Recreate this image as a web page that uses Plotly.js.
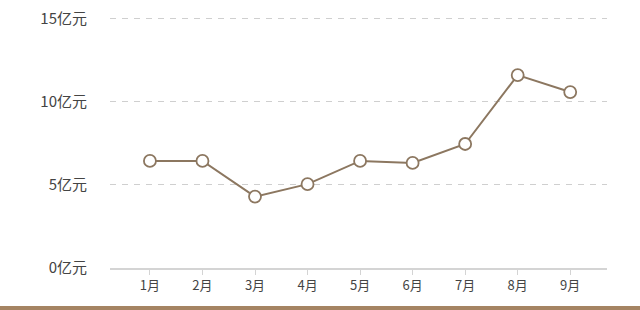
<!DOCTYPE html>
<html>
<head>
<meta charset="utf-8">
<script src="https://cdn.plot.ly/plotly-3.0.1.min.js"></script>
<style>
html,body{margin:0;padding:0;background:#fff;}
#chart{width:640px;height:310px;}
</style>
</head>
<body>
<div id="chart"></div>
<script>
const months = ["1月","2月","3月","4月","5月","6月","7月","8月","9月"];
const values = [6.45, 6.45, 4.3, 5.05, 6.45, 6.33, 7.47, 11.62, 10.6];
const yTickVals = [0, 5, 10, 15];
const yTickText = ["0亿元","5亿元","10亿元","15亿元"];

const xIdx = months.map((m, i) => i + 1);

const trace = {
  x: xIdx,
  y: values,
  type: 'scatter',
  mode: 'lines+markers',
  line: {color: '#8c7760', width: 2},
  marker: {size: 12, color: '#ffffff', line: {color: '#8c7760', width: 1.8}},
  hoverinfo: 'none',
  cliponaxis: false
};

const fontFam = '"Noto Sans CJK SC", "Noto Sans", sans-serif';

const layout = {
  width: 640, height: 310,
  margin: {l: 110, r: 33, t: 14, b: 42},
  paper_bgcolor: '#ffffff',
  plot_bgcolor: '#ffffff',
  showlegend: false,
  xaxis: {
    range: [0.24, 9.7],
    tickvals: xIdx,
    ticktext: months,
    showgrid: false,
    zeroline: false,
    showline: true,
    linecolor: '#d4d4d4',
    linewidth: 1.5,
    ticks: 'outside',
    ticklen: 5,
    tickcolor: '#d4d4d4',
    tickfont: {family: fontFam, size: 13, color: '#444'},
    fixedrange: true
  },
  yaxis: {
    range: [0, 15.3],
    tickvals: yTickVals,
    ticktext: yTickText,
    showgrid: true,
    gridcolor: '#cfcfcf',
    griddash: '6px,6px',
    gridwidth: 1,
    zeroline: false,
    showline: false,
    ticks: '',
    ticklabelstandoff: 22,
    tickfont: {family: fontFam, size: 15, color: '#444'},
    fixedrange: true
  },
  shapes: [{
    type: 'rect', xref: 'paper', yref: 'paper',
    x0: -0.3, x1: 1.2,
    y0: (268 - 311) / 254, y1: (268 - 306) / 254,
    fillcolor: '#a58463', line: {width: 0}, layer: 'above'
  }]
};

Plotly.newPlot('chart', [trace], layout, {displayModeBar: false, staticPlot: true});
</script>
</body>
</html>
